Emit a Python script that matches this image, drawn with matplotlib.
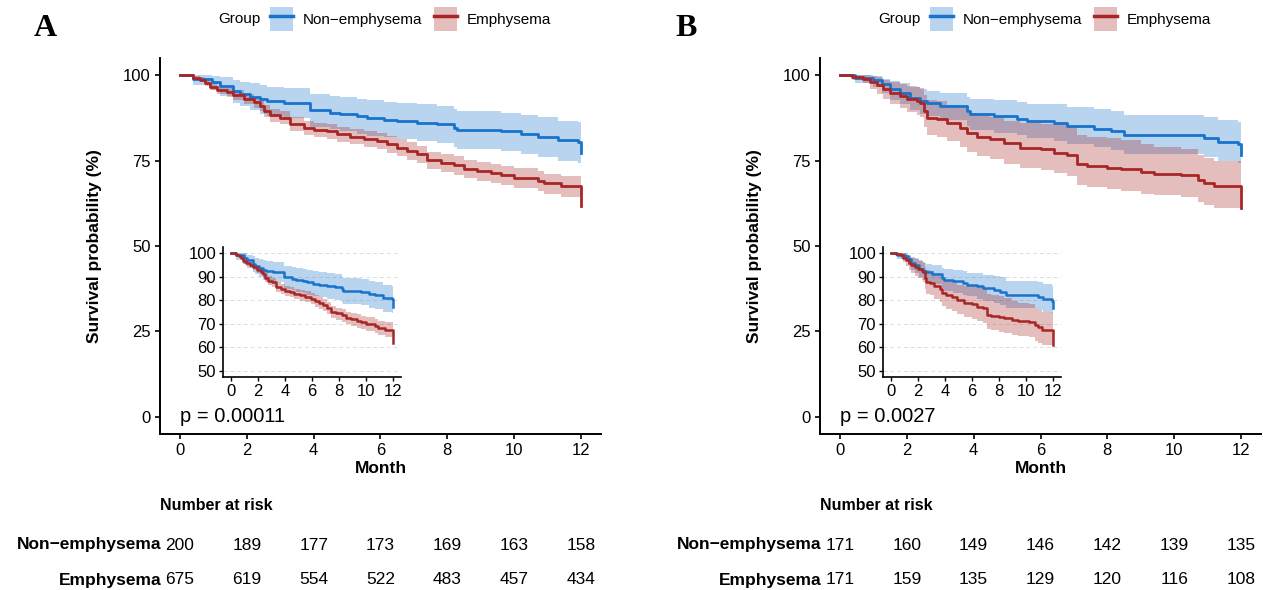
import matplotlib
matplotlib.use("Agg")
import matplotlib.pyplot as plt
import matplotlib.transforms as mtransforms
from matplotlib.patches import Patch
from matplotlib.lines import Line2D
from matplotlib.legend_handler import HandlerTuple

plt.rcParams['font.family'] = ['Liberation Sans', 'DejaVu Sans']

# ---------------- data ----------------
months = [0, 2, 4, 6, 8, 10, 12]
groups = ["Non\u2212emphysema", "Emphysema"]

# panel A, Non-emphysema
a_non_t = [0, 0.4, 0.95, 1.2, 1.6, 1.8, 2.1, 2.4, 2.6, 3.1, 3.9, 4.5, 4.8, 5.3, 5.6, 6.1,
           6.5, 7.1, 7.7, 8.2, 8.3, 9.6, 10.2, 10.7, 11.3, 11.9, 12.0]
a_non_s = [100, 99.0, 98.0, 96.8, 95.3, 94.6, 93.7, 92.9, 92.4, 91.9, 89.7, 89.0, 88.5, 88.0,
           87.5, 87.0, 86.6, 86.1, 85.6, 84.6, 84.0, 83.6, 82.7, 82.0, 80.9, 80.4, 77.1]
a_non_hi = [100, 100, 99.8, 99.3, 98.5, 98.0, 97.6, 97.0, 96.6, 96.1, 94.6, 94.0, 93.5, 93.1,
            92.6, 92.2, 91.8, 91.4, 90.9, 90.0, 89.4, 89.0, 88.2, 87.6, 86.6, 86.2, 83.5]
a_non_lo = [100, 97.0, 95.5, 93.8, 91.8, 91.0, 89.7, 88.7, 88.1, 87.5, 84.9, 84.1, 83.5, 82.9,
            82.3, 81.8, 81.3, 80.7, 80.1, 79.0, 78.3, 77.9, 76.9, 76.1, 75.0, 74.4, 70.5]

# panel A, Emphysema
a_emp_t = [0, 0.4, 0.6, 0.75, 0.9, 1.1, 1.4, 1.6, 1.9, 2.2, 2.4, 2.5, 2.7, 3.0, 3.3, 3.7, 4.0,
           4.4, 4.7, 5.1, 5.5, 5.9, 6.2, 6.5, 6.8, 7.1, 7.4, 7.8, 8.2, 8.5, 8.9, 9.3, 9.6,
           10.0, 10.7, 10.9, 11.4, 12.0]
a_emp_s = [100, 99.2, 98.7, 97.7, 96.6, 95.6, 95.0, 94.1, 92.9, 92.1, 91.1, 89.5, 88.3, 87.5,
           85.6, 84.6, 83.9, 83.5, 82.7, 82.0, 81.4, 80.7, 79.7, 78.8, 77.8, 76.8, 75.1, 74.4,
           73.6, 72.6, 71.9, 71.3, 70.7, 70.0, 69.1, 68.3, 67.5, 61.7]
a_emp_hi = [100, 99.7, 99.4, 98.6, 97.7, 96.8, 96.3, 95.5, 94.4, 93.7, 92.8, 91.3, 90.2, 89.4,
            87.6, 86.7, 86.0, 85.6, 84.9, 84.3, 83.7, 83.0, 82.1, 81.2, 80.3, 79.3, 77.6, 76.9,
            76.2, 75.2, 74.6, 74.0, 73.5, 72.8, 72.0, 71.2, 70.6, 65.5]
a_emp_lo = [100, 98.7, 98.0, 96.8, 95.5, 94.4, 93.7, 92.7, 91.4, 90.5, 89.4, 87.7, 86.4, 85.6,
            83.6, 82.5, 81.8, 81.4, 80.5, 79.7, 79.1, 78.3, 77.3, 76.3, 75.3, 74.2, 72.5, 71.7,
            70.8, 69.8, 69.0, 68.4, 67.7, 67.0, 66.0, 65.2, 64.3, 58.0]

# panel B, Non-emphysema
b_non_t = [0, 0.45, 1.0, 1.25, 1.5, 1.8, 2.1, 2.4, 2.6, 3.0, 3.8, 3.9, 4.6, 5.3, 5.6, 6.4,
           6.8, 7.6, 8.1, 8.5, 10.9, 11.3, 11.9, 12.0]
b_non_s = [100, 99.2, 98.5, 97.3, 95.8, 94.8, 93.4, 92.4, 91.9, 91.1, 89.5, 88.5, 88.0, 87.3,
           86.6, 85.9, 85.1, 84.3, 83.6, 82.4, 81.5, 80.5, 79.7, 76.5]
b_non_hi = [100, 100, 99.8, 99.0, 98.3, 97.7, 96.6, 95.8, 95.4, 94.8, 93.6, 93.1, 92.7, 92.2,
            91.6, 91.5, 90.8, 90.2, 89.6, 88.2, 87.7, 86.8, 86.2, 83.5]
b_non_lo = [100, 97.6, 96.4, 94.8, 92.8, 91.5, 89.8, 88.6, 87.9, 87.0, 85.1, 83.8, 83.2, 82.4,
            81.6, 80.7, 79.8, 78.9, 78.1, 76.8, 76.0, 75.0, 74.4, 70.6]

# panel B, Emphysema
b_emp_t = [0, 0.35, 0.7, 0.9, 1.1, 1.3, 1.5, 1.8, 2.0, 2.3, 2.4, 2.5, 2.6, 2.9, 3.2, 3.6, 3.8,
           4.1, 4.5, 4.9, 5.4, 6.0, 6.4, 6.8, 7.1, 7.4, 8.0, 8.4, 9.0, 9.4, 10.2, 10.7, 10.9,
           11.2, 12.0]
b_emp_s = [100, 99.4, 99.0, 98.0, 97.0, 95.8, 94.8, 93.9, 93.1, 92.4, 91.9, 89.5, 87.5, 87.1,
           85.9, 84.6, 83.2, 82.0, 81.2, 80.0, 78.8, 78.3, 77.3, 76.5, 73.9, 73.4, 72.9, 72.4,
           71.6, 71.0, 70.7, 69.3, 68.5, 67.5, 61.2]
b_emp_hi = [100, 100, 100, 99.8, 99.3, 98.6, 98.0, 97.4, 96.8, 96.4, 96.2, 94.2, 92.6, 92.3,
            91.3, 90.3, 89.0, 88.2, 87.6, 86.6, 86.1, 85.8, 85.6, 84.9, 82.5, 82.0, 81.6, 81.1,
            79.8, 79.0, 78.4, 76.5, 75.8, 75.0, 70.5]
b_emp_lo = [100, 98.6, 97.6, 96.0, 94.6, 92.9, 91.6, 90.3, 89.3, 88.4, 87.7, 84.8, 82.5, 82.0,
            80.6, 79.1, 77.6, 76.3, 75.4, 74.1, 72.8, 72.2, 71.3, 70.4, 67.7, 67.2, 66.6, 66.1,
            65.3, 64.8, 64.4, 62.8, 62.0, 61.1, 55.0]

# number at risk
a_risk_non = [200, 189, 177, 173, 169, 163, 158]
a_risk_emp = [675, 619, 554, 522, 483, 457, 434]
b_risk_non = [171, 160, 149, 146, 142, 139, 135]
b_risk_emp = [171, 159, 135, 129, 120, 116, 108]

p_a = "p = 0.00011"
p_b = "p = 0.0027"

BLUE = '#1873CC'
RED = '#A82626'

W, H = 1263, 590


def draw_curves(ax, curves, lw):
    # bands first, then the step lines
    for t, s, lo, hi, col in curves:
        ax.fill_between(t, lo, hi, step='post', color=col, alpha=0.3, linewidth=0)
    for t, s, lo, hi, col in curves:
        ax.step(t, s, where='post', color=col, lw=lw)


def draw_panel(fig, x0, letter, letter_x, curves, p_text, risk_non, risk_emp):
    # main axes
    ax = fig.add_axes([x0 / W, 1 - 434 / H, 441 / W, 376 / H])
    draw_curves(ax, curves, 2.0)
    ax.set_xlim(-0.6, 12.6)
    ax.set_ylim(-5, 105)
    ax.set_xticks(months)
    ax.set_yticks([0, 25, 50, 75, 100])
    for side in ['top', 'right']:
        ax.spines[side].set_visible(False)
    for side in ['left', 'bottom']:
        ax.spines[side].set_linewidth(1.4)
    ax.tick_params(labelsize=12, width=1.2, length=3.5, pad=3, colors='black')
    ax.set_xlabel("Month", fontsize=12.5, fontweight='bold', labelpad=2)
    ax.set_ylabel("Survival probability (%)", fontsize=12.5, fontweight='bold', labelpad=15)
    ax.text(0, 0, p_text, fontsize=14.5, ha='left', va='center')

    # inset zoomed on 50-100
    ins = fig.add_axes([(x0 + 63) / W, 1 - 377 / H, 178 / W, 130 / H])
    ins.set_facecolor('white')
    draw_curves(ins, curves, 1.8)
    ins.set_xlim(-0.6, 12.6)
    ins.set_ylim(47.5, 102.5)
    ins.set_xticks(months)
    ins.set_yticks([50, 60, 70, 80, 90, 100])
    ins.yaxis.grid(True, linestyle=(0, (4, 3)), color='#DDDDDD', linewidth=0.7)
    ins.set_axisbelow(True)
    for side in ['top', 'right']:
        ins.spines[side].set_visible(False)
    for side in ['left', 'bottom']:
        ins.spines[side].set_linewidth(1.2)
    ins.tick_params(labelsize=12, width=1.0, length=3, pad=2, colors='black')

    # panel letter
    fig.text(letter_x / W, 1 - 28 / H, letter, fontsize=23, fontweight='bold',
             family='Liberation Serif', ha='center', va='center')

    # legend on top
    fig.text((x0 + 58) / W, 1 - 19 / H, "Group", fontsize=11, ha='left', va='center')
    handles = [(Patch(facecolor=BLUE, alpha=0.3, linewidth=0), Line2D([], [], color=BLUE, lw=2.5)),
               (Patch(facecolor=RED, alpha=0.3, linewidth=0), Line2D([], [], color=RED, lw=2.5))]
    fig.legend(handles, groups, loc='center left', bbox_to_anchor=((x0 + 110) / W, 1 - 19 / H),
               ncol=2, frameon=False, fontsize=11, handlelength=1.5, handleheight=2.0,
               handletextpad=0.65, columnspacing=0.75, borderpad=0, borderaxespad=0,
               handler_map={tuple: HandlerTuple(ndivide=1, pad=0)})

    # number at risk table, x follows the main axis
    tr = mtransforms.blended_transform_factory(ax.transData, fig.transFigure)
    fig.text(-0.6, 1 - 506 / H, "Number at risk", transform=tr, fontsize=11.5,
             fontweight='bold', ha='left', va='center')
    for row, (name, vals) in enumerate(zip(groups, [risk_non, risk_emp])):
        yy = 1 - (545 + 35 * row) / H
        fig.text(-0.55, yy, name, transform=tr, fontsize=12.5, fontweight='bold',
                 ha='right', va='center')
        for m, v in zip(months, vals):
            fig.text(m, yy, str(v), transform=tr, fontsize=12.5, ha='center', va='center')
    return ax


fig = plt.figure(figsize=(W / 100, H / 100), dpi=100)

curves_a = [(a_non_t, a_non_s, a_non_lo, a_non_hi, BLUE),
            (a_emp_t, a_emp_s, a_emp_lo, a_emp_hi, RED)]
curves_b = [(b_non_t, b_non_s, b_non_lo, b_non_hi, BLUE),
            (b_emp_t, b_emp_s, b_emp_lo, b_emp_hi, RED)]

draw_panel(fig, 160, "A", 45, curves_a, p_a, a_risk_non, a_risk_emp)
draw_panel(fig, 820, "B", 686, curves_b, p_b, b_risk_non, b_risk_emp)

fig.savefig("out.png", dpi=100)
